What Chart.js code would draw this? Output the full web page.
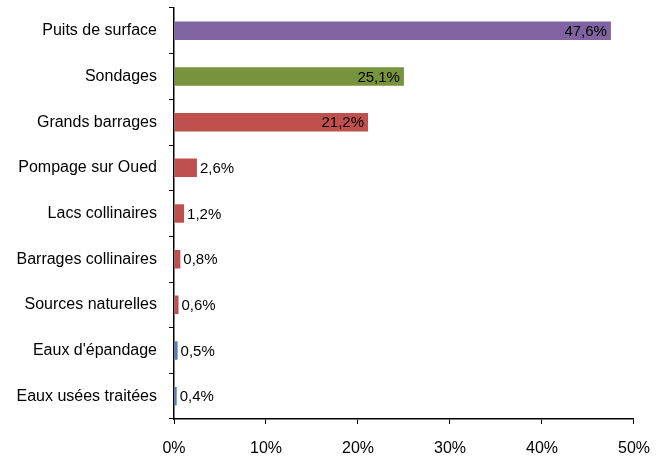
<!DOCTYPE html>
<html>
<head>
<meta charset="utf-8">
<script src="https://cdn.jsdelivr.net/npm/chart.js@4"></script>
<style>
  html, body { margin: 0; padding: 0; background: #fff; }
  #wrap { width: 665px; height: 459px; }
</style>
</head>
<body>
<div id="wrap"><canvas id="ressourcesChart"></canvas></div>
<script>
const categories = [
    "Puits de surface",
    "Sondages",
    "Grands barrages",
    "Pompage sur Oued",
    "Lacs collinaires",
    "Barrages collinaires",
    "Sources naturelles",
    "Eaux d'épandage",
    "Eaux usées traitées"
];
const shares = [47.6, 25.1, 21.2, 2.6, 1.2, 0.8, 0.6, 0.5, 0.4];
const barColors = ["#8064A2", "#77933C", "#C0504D", "#C0504D", "#C0504D", "#C0504D", "#C0504D", "#4F81BD", "#4F81BD"];
const xTicks = [0, 10, 20, 30, 40, 50];

const fontFamily = "'Liberation Sans', Arial, sans-serif";

// value labels: inside the end for the long bars, just after the end for the short ones
const valueLabels = {
    id: "valueLabels",
    afterDatasetsDraw(chart) {
        const ctx = chart.ctx;
        const meta = chart.getDatasetMeta(0);
        ctx.save();
        ctx.font = "15px " + fontFamily;
        ctx.fillStyle = "#000";
        ctx.textBaseline = "middle";
        meta.data.forEach((bar, i) => {
            const txt = shares[i].toFixed(1).replace(".", ",") + "%";
            if (shares[i] > 10) {
                ctx.textAlign = "right";
                ctx.fillText(txt, bar.x - 5, bar.y + 1);
            } else {
                ctx.textAlign = "left";
                ctx.fillText(txt, bar.x + 2, bar.y + 1);
            }
        });
        ctx.restore();
    }
};

const ctx = document.getElementById("ressourcesChart").getContext("2d");
const ressourcesChart = new Chart(ctx, {
    type: "bar",
    data: {
        labels: categories,
        datasets: [
            {
                data: shares,
                backgroundColor: barColors,
                borderColor: "rgba(255,255,255,0.4)",
                borderWidth: 1,
                barPercentage: 0.9,
                categoryPercentage: 0.5
            }
        ]
    },
    options: {
        indexAxis: "y",
        responsive: true,
        maintainAspectRatio: false,
        animation: false,
        layout: {
            padding: { top: 8, right: 31, left: 0, bottom: 0 }
        },
        plugins: {
            legend: { display: false },
            tooltip: { enabled: false }
        },
        scales: {
            x: {
                min: 0,
                max: 50,
                afterBuildTicks: (scale) => {
                    scale.ticks = xTicks.map(v => ({ value: v }));
                },
                afterFit: (scale) => { scale.height = 40; },
                ticks: {
                    callback: (v) => v + "%",
                    color: "#000",
                    font: { family: fontFamily, size: 16 },
                    padding: 15,
                    maxRotation: 0
                },
                grid: {
                    drawOnChartArea: false,
                    drawTicks: true,
                    tickLength: 5,
                    color: "#000"
                },
                border: { color: "#000", width: 1.5 }
            },
            y: {
                afterFit: (scale) => {
                    scale.width = 174;
                    scale.paddingTop = 0;
                    scale.paddingBottom = 0;
                },
                ticks: {
                    color: "#000",
                    font: { family: fontFamily, size: 16 },
                    padding: 12
                },
                grid: {
                    drawOnChartArea: false,
                    drawTicks: true,
                    tickLength: 5,
                    offset: true,
                    color: "#000"
                },
                border: { color: "#000", width: 1.5 }
            }
        }
    },
    plugins: [valueLabels]
});
</script>
</body>
</html>
